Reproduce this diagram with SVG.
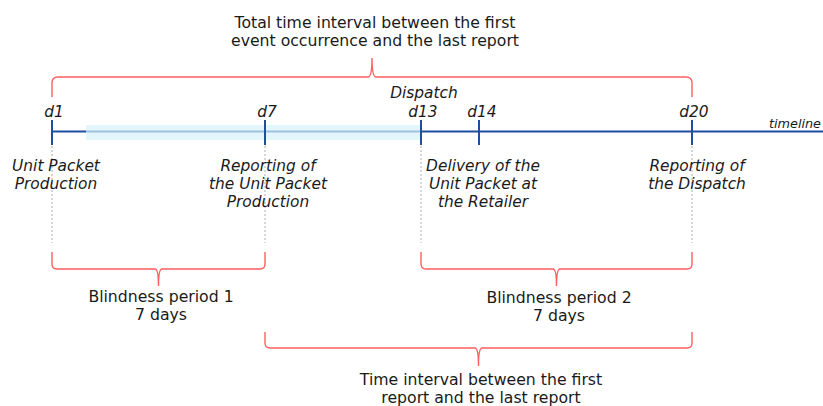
<svg xmlns="http://www.w3.org/2000/svg" width="823" height="406" viewBox="0 0 823 406">
  <style>
    .lbl { font-family: "DejaVu Sans", Verdana, sans-serif; font-size: 15.7px; fill: #1a1a1a; text-anchor: middle; }
    .it { font-style: italic; font-size: 15.4px; }
    .brace { fill: none; stroke: #ff5f5f; stroke-width: 1.4; }
    .tick { stroke: #1f4e9f; stroke-width: 2; }
    .guide { stroke: #c9c9c9; stroke-width: 1.5; stroke-dasharray: 2 2; }
  </style>
  <rect width="823" height="406" fill="#ffffff"/>

  <!-- timeline axis -->
  <g id="timeline">
    <line x1="52" y1="131.5" x2="823" y2="131.5" class="tick"/>
    <rect x="86" y="125" width="334" height="15" fill="#d6f2fa" opacity="0.7"/>
    <text x="821" y="128" class="lbl it" style="font-size:12.8px;text-anchor:end">timeline</text>
  </g>

  <!-- guide lines under each marker -->
  <g id="guides">
    <line x1="52" y1="146" x2="52" y2="243" class="guide"/>
    <line x1="265" y1="146" x2="265" y2="243" class="guide"/>
    <line x1="421" y1="146" x2="421" y2="243" class="guide"/>
    <line x1="692" y1="146" x2="692" y2="243" class="guide"/>
  </g>

  <g id="d1">
    <line x1="52" y1="120" x2="52" y2="145" class="tick"/>
    <text x="54" y="117" class="lbl it">d1</text>
    <text x="56" y="171" class="lbl it">Unit Packet</text>
    <text x="56" y="189" class="lbl it">Production</text>
  </g>
  <g id="d7">
    <line x1="265" y1="120" x2="265" y2="145" class="tick"/>
    <text x="267" y="117" class="lbl it">d7</text>
    <text x="268" y="171" class="lbl it">Reporting of</text>
    <text x="268" y="189" class="lbl it">the Unit Packet</text>
    <text x="268" y="207" class="lbl it">Production</text>
  </g>
  <g id="d13">
    <line x1="421" y1="120" x2="421" y2="145" class="tick"/>
    <text x="424" y="98" class="lbl it">Dispatch</text>
    <text x="423" y="117" class="lbl it">d13</text>
    <text x="483" y="171" class="lbl it">Delivery of the</text>
    <text x="483" y="189" class="lbl it">Unit Packet at</text>
    <text x="483" y="207" class="lbl it">the Retailer</text>
  </g>
  <g id="d14">
    <line x1="479" y1="120" x2="479" y2="145" class="tick"/>
    <text x="482" y="117" class="lbl it">d14</text>
  </g>
  <g id="d20">
    <line x1="692" y1="120" x2="692" y2="145" class="tick"/>
    <text x="694" y="117" class="lbl it">d20</text>
    <text x="697" y="171" class="lbl it">Reporting of</text>
    <text x="697" y="189" class="lbl it">the Dispatch</text>
  </g>

  <!-- interval braces -->
  <g id="connectors">
    <path class="brace" d="M52,97 L52,83 Q52,77 58,77 L368,77 Q372,77 372,58 Q372,77 376,77 L686,77 Q692,77 692,83 L692,97"/>
    <path class="brace" d="M52,252 L52,264 Q52,269 57,269 L155,269 Q158.5,269 158.5,286 Q158.5,269 162,269 L260,269 Q265,269 265,264 L265,252"/>
    <path class="brace" d="M421,252 L421,264 Q421,269 426,269 L553,269 Q556.5,269 556.5,286 Q556.5,269 560,269 L687,269 Q692,269 692,264 L692,252"/>
    <path class="brace" d="M265,332 L265,343 Q265,348 270,348 L475,348 Q478.5,348 478.5,366 Q478.5,348 482,348 L687,348 Q692,348 692,343 L692,332"/>
  </g>

  <g id="total-interval">
    <text x="375" y="28" class="lbl">Total time interval between the first</text>
    <text x="375" y="46" class="lbl">event occurrence and the last report</text>
  </g>
  <g id="blindness-1">
    <text x="161" y="302" class="lbl">Blindness period 1</text>
    <text x="161" y="320" class="lbl">7 days</text>
  </g>
  <g id="blindness-2">
    <text x="559" y="303" class="lbl">Blindness period 2</text>
    <text x="559" y="321" class="lbl">7 days</text>
  </g>
  <g id="report-interval">
    <text x="481" y="385" class="lbl">Time interval between the first</text>
    <text x="481" y="403" class="lbl">report and the last report</text>
  </g>
</svg>
